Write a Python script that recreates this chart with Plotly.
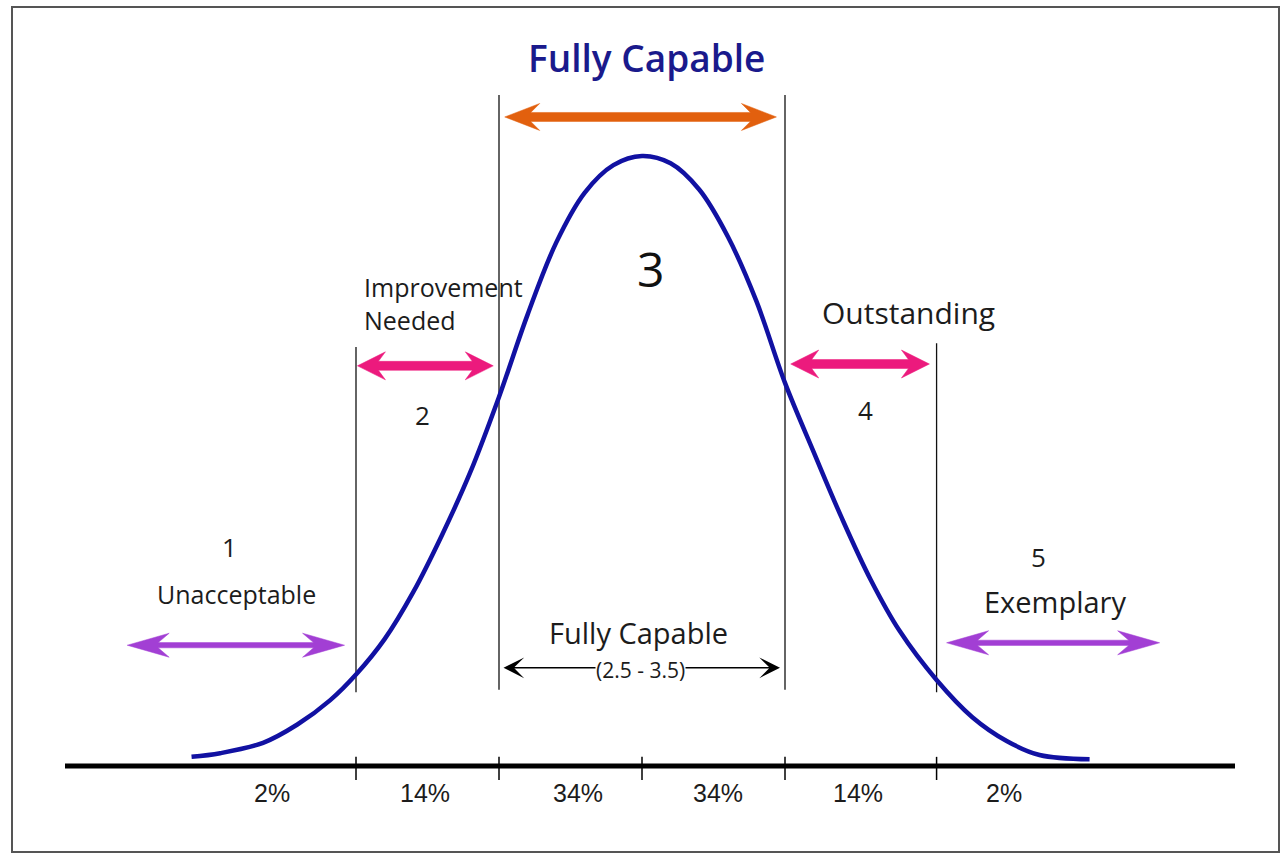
import plotly.graph_objects as go

# ---------------- data ----------------
# bell curve: x in standard deviations, y as share of peak height
curve_x = [-3.15, -2.95, -2.65, -2.41, -2.18, -2.00, -1.80, -1.60, -1.40, -1.20,
           -1.00, -0.80, -0.60, -0.40, -0.20, 0.00, 0.20, 0.40, 0.60, 0.80,
           1.00, 1.20, 1.40, 1.60, 1.80, 2.06, 2.31, 2.55, 2.78, 3.13]
curve_y = [0.015, 0.021, 0.038, 0.068, 0.108, 0.150, 0.208, 0.285, 0.378, 0.482,
           0.605, 0.740, 0.858, 0.940, 0.985, 1.000, 0.988, 0.945, 0.868, 0.762,
           0.628, 0.515, 0.405, 0.305, 0.222, 0.141, 0.080, 0.041, 0.018, 0.011]

# band boundaries (standard deviations)
boundaries = [-2.0, -1.0, 0.0, 1.0, 2.06]
# vertical divider lines: boundary x, top, bottom
divider_x = [-2.0, -1.0, 1.0, 2.06]
divider_top = [0.687, 1.100, 1.100, 0.693]
divider_bottom = [0.121, 0.125, 0.125, 0.121]

# percent shares per band
share_labels = ["2%", "14%", "34%", "34%", "14%", "2%"]
share_x = [-2.59, -1.52, -0.45, 0.53, 1.51, 2.53]

# rating labels
rating_numbers = ["1", "2", "3", "4", "5"]
rating_names = ["Unacceptable", "Improvement<br>Needed", "Fully Capable", "Outstanding", "Exemplary"]

# coloured double arrows
arrow_start = [-3.60, -1.99, -0.96, 1.04, 2.13]
arrow_end = [-2.08, -1.04, 0.94, 2.01, 3.62]
arrow_y = [0.198, 0.656, 1.064, 0.659, 0.202]
arrow_colors = ["#a23fd4", "#ec1a7d", "#e2600e", "#ec1a7d", "#a23fd4"]

# ---------------- figure ----------------
W, H = 1281, 858
PX_X, PX_Y = 143.0, 610.0          # pixels per sd / per unit height
X0_PX, Y0_PX = 642.0, 766.0        # pixel position of (0, 0)
x_range = [(0 - X0_PX) / PX_X, (W - X0_PX) / PX_X]
y_range = [(Y0_PX - H) / PX_Y, Y0_PX / PX_Y]

fig = go.Figure()

# baseline axis
fig.add_trace(go.Scatter(x=[(65 - X0_PX) / PX_X, (1235 - X0_PX) / PX_X], y=[0, 0], mode="lines",
                         line=dict(color="black", width=5), hoverinfo="skip", showlegend=False))

# ticks at boundaries
for b in boundaries:
    fig.add_trace(go.Scatter(x=[b, b], y=[0.015, -0.023], mode="lines",
                             line=dict(color="black", width=1.5), hoverinfo="skip", showlegend=False))

# divider lines
for dx, t, bt in zip(divider_x, divider_top, divider_bottom):
    fig.add_trace(go.Scatter(x=[dx, dx], y=[bt, t], mode="lines",
                             line=dict(color="#111111", width=1.3), hoverinfo="skip", showlegend=False))

# bell curve
fig.add_trace(go.Scatter(x=curve_x, y=curve_y, mode="lines",
                         line=dict(color="#1111a2", width=4.5, shape="spline", smoothing=1.0),
                         hoverinfo="skip", showlegend=False))


def double_arrow_path(x0, x1, y, L, h, s, n):
    """Filled notched double arrow; L, h, s, n in pixels."""
    lx, hy, sy, nx = L / PX_X, h / PX_Y, s / PX_Y, n / PX_X
    pts = [(x0, y), (x0 + lx, y + hy), (x0 + lx - nx, y + sy), (x1 - lx + nx, y + sy),
           (x1 - lx, y + hy), (x1, y), (x1 - lx, y - hy), (x1 - lx + nx, y - sy),
           (x0 + lx - nx, y - sy), (x0 + lx, y - hy)]
    return "M " + " L ".join(f"{px:.5f},{py:.5f}" for px, py in pts) + " Z"


head_style = {"#e2600e": (35, 13.5, 4.5, 9), "#ec1a7d": (28, 14, 4.5, 7), "#a23fd4": (42, 12, 2.6, 11)}
shapes = [dict(type="rect", xref="paper", yref="paper",
               x0=12 / W, x1=1279 / W, y0=1 - 852 / H, y1=1 - 7 / H,
               line=dict(color="#555555", width=2), layer="below")]
for s, e, yv, c in zip(arrow_start, arrow_end, arrow_y, arrow_colors):
    L, h, sh, n = head_style[c]
    shapes.append(dict(type="path", xref="x", yref="y", path=double_arrow_path(s, e, yv, L, h, sh, n),
                       fillcolor=c, line=dict(color=c, width=0.5), layer="above"))

ann = []
# thin black double arrow for Fully Capable range
ann.append(dict(x=0.965, y=0.161, ax=-0.979, ay=0.161, xref="x", yref="y", axref="x", ayref="y",
                text="", showarrow=True, arrowside="end+start",
                arrowhead=3, startarrowhead=3, arrowsize=2.3, startarrowsize=2.3,
                arrowwidth=1.5, arrowcolor="black", standoff=0, startstandoff=0))

FONT = "Open Sans"
txt = "#1c1c1c"


def label(x, y, text, size, color=txt, xanchor="center", family=FONT, bg=None, weight=None, align="center"):
    d = dict(x=x, y=y, xref="x", yref="y", text=text, showarrow=False, xanchor=xanchor, yanchor="middle",
             align=align, font=dict(family=family, size=size, color=color))
    if weight:
        d["font"]["weight"] = weight
    if bg:
        d["bgcolor"] = bg
        d["borderpad"] = 0
    ann.append(d)


# top title
label(0.028, 1.162, rating_names[2], 37, color="#1a1a8c", weight=600)
label(0.056, 0.816, rating_numbers[2], 48, color="#111111")
# 2
label(-1.958, 0.758, rating_names[1], 25, xanchor="left", align="left")
label(-1.538, 0.575, rating_numbers[1], 26)
# 4
label(1.867, 0.744, rating_names[3], 30)
label(1.566, 0.584, rating_numbers[3], 26)
# 1
label(-2.888, 0.359, rating_numbers[0], 26)
label(-2.839, 0.282, rating_names[0], 25)
# 5
label(2.776, 0.343, rating_numbers[4], 26)
label(2.888, 0.269, rating_names[4], 29)
# lower Fully Capable
label(-0.028, 0.219, rating_names[2], 29)
label(-0.014, 0.157, "(2.5 - 3.5)", 21, bg="white")

# shares
for sx, sl in zip(share_x, share_labels):
    label(sx, -0.044, sl, 25, family="Liberation Sans")

fig.update_layout(
    annotations=ann,
    shapes=shapes,
    width=W, height=H,
    margin=dict(l=0, r=0, t=0, b=0),
    paper_bgcolor="white", plot_bgcolor="white",
    xaxis=dict(range=x_range, visible=False, fixedrange=True),
    yaxis=dict(range=y_range, visible=False, fixedrange=True),
    showlegend=False,
)

fig.write_html("out.html", config={"displayModeBar": False},
               post_script="document.body.style.margin='0px';")
